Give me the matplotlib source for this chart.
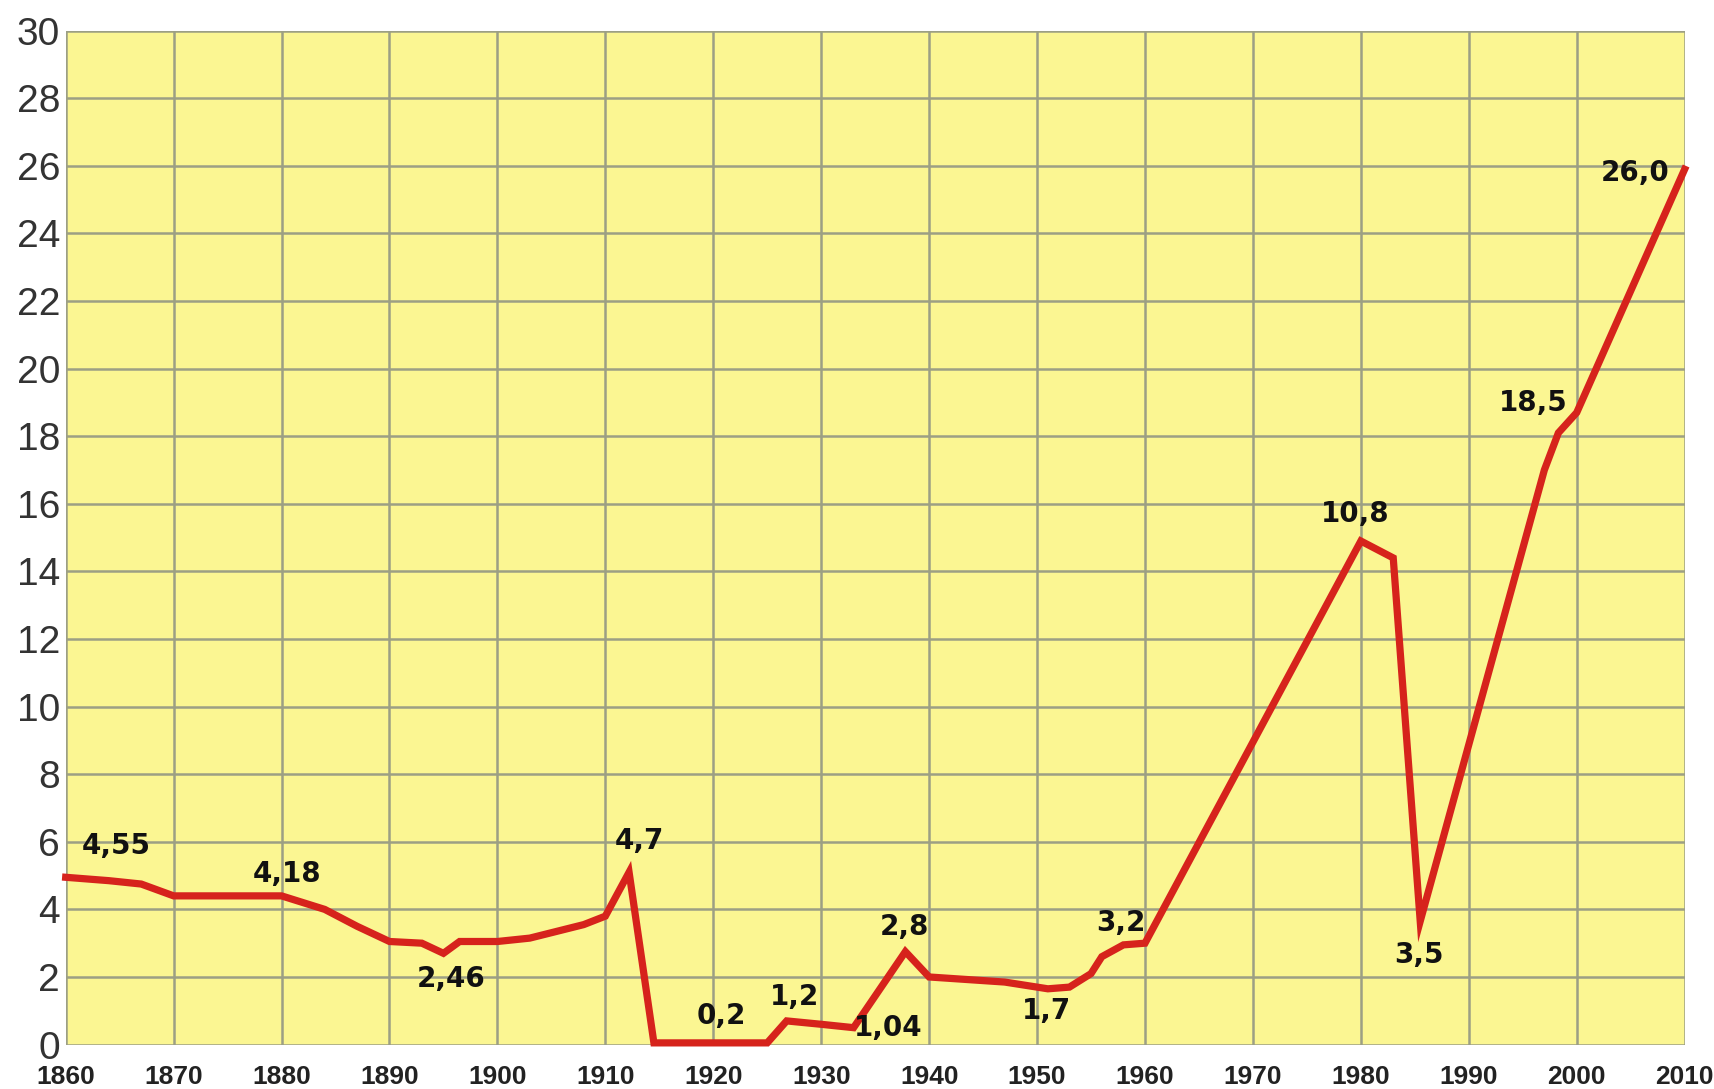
import matplotlib
matplotlib.use("Agg")
import matplotlib.pyplot as plt

# ---- data ----
years = [1860, 1864, 1867, 1870, 1880, 1884, 1887, 1889, 1890, 1893, 1895,
         1896.5, 1900, 1903, 1908, 1910, 1912.2, 1914.5, 1925, 1926.8, 1930,
         1933, 1937.8, 1940, 1947, 1951, 1953, 1955, 1956, 1958, 1960, 1980,
         1983, 1985.5, 1997, 1998.3, 2000, 2010]
values = [4.95, 4.85, 4.75, 4.4, 4.4, 4.0, 3.5, 3.2, 3.05, 3.0, 2.7,
          3.05, 3.05, 3.15, 3.55, 3.8, 5.1, 0.05, 0.05, 0.7, 0.6,
          0.5, 2.75, 2.0, 1.85, 1.65, 1.7, 2.1, 2.6, 2.95, 3.0, 14.9,
          14.4, 3.65, 17.0, 18.1, 18.7, 25.9]

label_texts = ["4,55", "4,18", "2,46", "4,7", "0,2", "1,2", "1,04", "2,8",
               "1,7", "3,2", "10,8", "3,5", "18,5", "26,0"]
label_x = [1864.7, 1880.5, 1895.7, 1913.2, 1920.7, 1927.5, 1936.2, 1937.7,
           1950.9, 1957.8, 1979.5, 1985.4, 1996.0, 2005.4]
label_y = [5.87, 5.06, 1.94, 6.03, 0.84, 1.42, 0.48, 3.48,
           1.0, 3.61, 15.7, 2.65, 18.97, 25.8]

xticks = list(range(1860, 2011, 10))
xtick_labels = [str(v) for v in xticks]
yticks = list(range(0, 31, 2))
ytick_labels = [str(v) for v in yticks]

# ---- figure ----
fig = plt.figure(figsize=(17.15, 10.89), dpi=100)
ax = fig.add_axes([0.0383, 0.0408, 0.944, 0.931])
ax.set_facecolor("#FBF692")

ax.set_xlim(1860, 2010)
ax.set_ylim(0, 30)
ax.set_xticks(xticks)
ax.set_xticklabels(xtick_labels, fontfamily="Liberation Sans", fontweight="bold",
                   fontsize=19, color="#222222")
ax.set_yticks(yticks)
ax.set_yticklabels(ytick_labels, fontfamily="Liberation Sans", fontsize=28,
                   color="#333333")
ax.tick_params(axis="both", length=0)
ax.tick_params(axis="x", pad=15)
ax.tick_params(axis="y", pad=4)

ax.grid(True, color="#9c9f84", linewidth=1.8)
ax.set_axisbelow(True)
for s in ax.spines.values():
    s.set_visible(False)

ax.plot(years, values, color="#D6231C", linewidth=5.2, solid_joinstyle="miter",
        clip_on=False, zorder=3)

for t, x, y in zip(label_texts, label_x, label_y):
    ax.text(x, y, t, ha="center", va="center", fontfamily="DejaVu Sans",
            fontweight="bold", fontsize=20, color="#111111", zorder=4)

fig.savefig("out.png", dpi=100, facecolor="white")
